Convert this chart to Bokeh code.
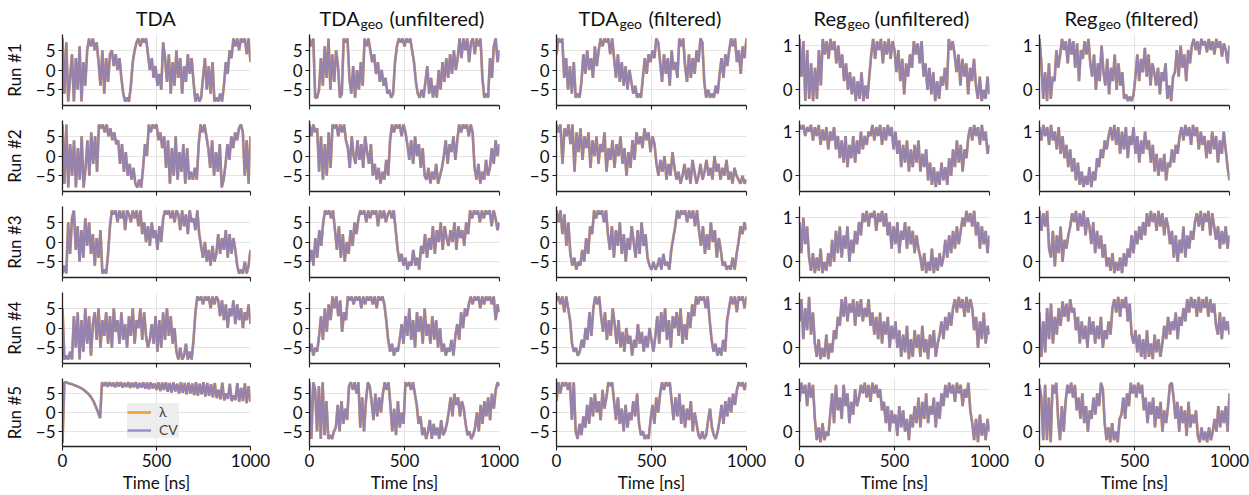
import numpy as np
from bokeh.plotting import figure
from bokeh.layouts import gridplot
from bokeh.models import Range1d, FixedTicker
from bokeh.core.properties import value
from bokeh.embed import file_html
from bokeh.resources import INLINE

# ---------------- data (lambda and CV overlap almost everywhere) ----------------
time_span = [0, 1000]
run_labels = ["Run #1", "Run #2", "Run #3", "Run #4", "Run #5"]
x_ticks = [0, 500, 1000]
tda_ticks = [-5, 0, 5]
reg_ticks = [0, 1]

# column 1: TDA
tda_r1 = [8,-6,7,-8,-2,4,-8,3,-5,6,-8,2,-4,5,8,6,8,5,7,2,-4,5,-6,3,-3,4,5,1,4,0,3,-2,-6,-8,-7,-8,-4,2,5,7,8,6,8,7,8,4,0,3,-2,1,-4,-1,-5,7,3,-3,4,-6,2,-4,5,-2,3,-6,1,-3,4,-1,3,-3,-8,-6,-8,-7,-2,3,-5,1,-6,2,-8,-7,-8,-6,-8,-4,2,-1,5,3,8,6,8,5,8,7,8,4,8,2]
tda_r2 = [8,-7,8,-8,3,-5,4,-8,2,-6,5,-8,-3,4,-5,6,-2,5,-4,8,7,8,6,8,5,7,4,6,3,4,-2,3,-4,1,-5,-2,-6,-3,-7,-8,-6,-8,-3,3,0,8,6,8,7,8,4,6,2,5,-3,4,-7,2,-5,5,-6,1,-4,3,-7,2,-6,-4,-6,-3,-6,3,8,6,8,5,2,-3,4,-5,1,-4,3,-8,-6,-2,3,-1,5,2,6,4,7,8,6,-5,4,-7,5]
tda_r3 = [-8,-6,-8,5,-3,6,8,-2,4,-5,3,-4,6,-1,5,-3,2,-6,1,-4,3,-8,-7,-8,-3,4,8,7,8,5,8,6,8,3,8,7,5,8,6,8,4,8,2,5,0,4,-1,5,1,3,-2,4,0,6,8,7,8,6,8,5,8,7,3,8,4,7,2,8,5,6,3,8,2,-1,-4,0,-5,-2,-6,-1,-5,-3,2,-3,1,-2,3,-4,2,-3,1,-2,-6,-8,-7,-8,-5,-8,-6,-2]
tda_r4 = [5,-8,-7,-8,-6,-8,3,-5,4,-8,2,-6,5,-4,3,-7,1,4,-3,5,-5,2,-2,4,-4,3,-5,5,-1,2,-4,4,-3,1,-5,3,-2,5,-4,2,0,5,-3,4,-2,-5,-3,1,-4,3,-6,2,-5,4,-3,5,-2,3,-4,0,-6,-8,-5,-8,-7,-4,-8,-6,-8,-3,4,8,7,8,6,8,7,8,5,8,6,8,7,3,7,2,6,0,5,3,7,1,6,2,5,0,4,2,6,1]
tda_r5 = [-8,8,8,7.8,7.6,7.5,7.3,7.1,6.9,6.7,6.4,6.1,5.7,5.3,4.8,4.2,3.4,2.4,1.2,0,-1.5,8,
          7,8,6.8,8,7,7.9,6.7,8,6.9,8,6.6,7.8,6.8,8,6.5,7.9,6.7,8,6.4,7.8,6.6,8,6.3,7.9,6.2,8,6.4,7.7,
          6,8,5.7,7.9,6,8,5.5,7.8,5.3,8,5.6,7.6,5,8,5.2,7.8,4.8,7.9,5,7.7,4.6,8,4.5,7.6,4.8,8,4.2,7.8,4.4,7.5,
          4,7.8,3.8,6,3.5,7.9,3.2,5,3.6,7.6,3,4.5,3.3,7.8,2.8,6.5,3,7.7,2.5,7,2.8]

# column 2: TDA_geo (unfiltered)
tdageo_unf_r1 = [8,6,8,-7,-7,-5,3,-4,6,-2,8,-5,4,-3,5,1,-7,-6,8,7,8,-2,-6,1,-7,0,-5,2,-4,8,6,8,5,2,4,-1,2,-3,0,-4,-2,-6,-5,-7,-6,2,6,8,7,8,6,8,7,8,5,2,-3,-6,-7,-5,-7,-3,1,-6,-2,-7,-4,-7,0,-5,2,-3,3,-2,4,-1,5,0,3,8,3,8,5,8,2,7,8,4,8,6,8,-2,-7,-6,-7,3,-2,6,8,2,5]
tdageo_unf_r2 = [8,5,8,6,7,-4,5,-6,3,-5,6,-3,8,7,8,5,8,6,8,4,2,-3,5,0,-2,4,-1,3,-3,5,1,-2,3,-5,-2,-6,-3,-7,-4,-6,-1,-5,4,8,6,8,7,8,5,8,6,3,-1,4,-2,5,0,3,-3,2,-5,-6,-3,-7,-4,-6,-2,-7,-5,-3,0,4,-2,3,1,5,-1,4,8,6,8,7,8,5,8,6,-3,-6,-2,-7,-4,-6,-1,-5,-3,2,-2,4,0,3]
tdageo_unf_r3 = [-5,-2,-6,1,-4,3,-1,5,8,7,8,6,8,3,-2,4,-4,2,-5,0,-3,3,-1,5,2,6,8,7,8,5,8,6,8,7,8,4,8,6,8,5,7,8,6,8,3,-2,-5,-3,-6,-4,-7,-5,-6,-2,-6,-4,-7,-1,-3,2,-4,1,-2,4,-3,3,0,5,-2,4,1,-1,3,0,5,-2,4,1,3,-1,5,2,8,6,8,7,8,5,8,6,8,7,8,4,8,6,3,5]
tdageo_unf_r4 = [-6,-4,-7,-5,-6,-2,3,-3,5,-1,6,2,8,5,8,3,7,-1,4,2,8,7,8,6,8,7,8,5,8,6,8,7,8,6,8,5,8,7,8,6,2,-3,-6,-4,-7,-5,-6,-3,1,-4,3,-2,5,-3,2,-5,4,-1,3,-4,5,-2,1,-4,3,-3,2,-5,0,-6,-4,-7,-5,-6,-3,-7,-2,1,-3,4,0,5,3,6,8,6,8,7,8,5,8,6,8,7,8,6,8,2,6,4]
tdageo_unf_r5 = [8,-7,8,6,-5,7,-7,8,-6,3,-7,-6,-7,-5,-4,2,-5,3,-3,1,-2,7,8,6,8,5,8,-4,4,-5,3,8,7,3,-2,5,-1,4,0,5,8,6,8,2,-5,1,-6,3,-4,0,-3,8,7,8,6,8,5,2,-3,-1,-6,-4,-7,-5,-2,-7,-3,-6,-4,-7,-2,-6,-5,-3,0,4,-1,5,2,4,-1,3,1,-3,-6,-5,-7,-6,-4,0,-5,2,-3,3,-1,4,-2,5,1,6,8,7]

# column 3: TDA_geo (filtered)
tdageo_fil_r1 = [4,8,7,8,-2,3,-5,1,-6,2,-7,-6,-7,-3,4,-1,5,0,3,-2,6,1,5,8,6,8,7,8,4,8,3,-2,4,-3,2,-4,1,-5,0,-3,-6,-4,-7,-6,-7,-2,3,-1,4,2,5,3,8,7,2,-3,4,-1,3,-4,5,0,2,-2,8,6,8,1,-3,4,-2,3,-1,5,2,8,7,-3,-7,-5,-7,-6,-7,-4,-6,-1,3,-2,4,1,5,8,6,8,2,5,-1,6,3,8]
tdageo_fil_r2 = [8,6,8,-2,7,5,8,3,8,-4,6,1,7,-1,5,2,6,-3,4,0,5,-2,3,1,6,-4,2,-1,4,-3,3,0,5,-2,2,-5,1,-3,4,-1,6,3,5,2,7,4,6,1,5,3,-2,-5,-1,-4,0,-6,-2,-5,1,-3,-6,-4,-7,-5,-2,-6,-3,-7,-1,-4,-7,-5,-2,-6,-4,-1,-5,-3,-6,0,-4,-2,-6,-3,-5,-1,-6,-4,-7,-3,-5,-6,-7,-5,-7,-6]
tdageo_fil_r3 = [8,5,8,2,7,-1,5,-3,-6,-4,-7,-5,-6,-2,-5,1,-3,4,2,8,6,8,7,8,5,8,2,-2,4,-4,3,-1,5,-3,2,-5,1,-2,4,0,-4,3,-3,5,-1,2,-4,-6,-7,-5,-7,-6,-4,-7,-3,-6,-5,-7,-2,1,4,8,6,8,7,8,5,8,6,8,4,8,3,-1,4,-3,2,-2,5,0,3,-4,1,-2,-6,-5,-7,-6,-7,-4,-7,-3,0,4,2,5,3]
tdageo_fil_r4 = [7,8,6,8,4,8,5,2,-4,-6,-5,-7,-6,-3,-5,0,-3,4,-2,5,8,6,8,3,-1,4,-3,2,-2,5,1,-4,2,-5,-1,-6,0,-4,-2,-7,-3,-5,1,-4,-1,-6,-2,-5,0,-3,-6,-2,3,-4,4,-1,5,-3,2,-5,3,0,4,-2,5,-4,1,-3,4,0,6,3,8,6,8,7,8,5,8,2,-3,-6,-4,-7,-5,-7,-3,-6,2,5,8,6,8,4,8,7,8,5,8]
tdageo_fil_r5 = [3,8,5,8,7,8,6,8,-2,8,-5,-7,-3,-6,-1,-4,2,-3,4,-1,5,0,3,-2,6,1,4,8,7,8,3,-2,4,-3,1,-5,2,-4,0,-2,3,-1,5,-3,-6,-5,-7,-6,-7,-2,2,-3,4,0,5,8,6,8,7,8,3,-2,4,-1,5,-3,2,-4,1,-2,3,-5,0,-3,-6,-7,-5,-7,-6,-2,1,-4,-6,-7,-5,-2,2,-3,3,-1,4,0,5,2,6,8,7,8,6,8]

# column 4: Reg_geo (unfiltered)
reggeo_unf_r1 = [1.15,0.3,1.1,-0.25,0.9,-0.2,0.6,-0.25,0.5,-0.2,0.9,0.1,1.15,0.8,1.1,0.7,1.15,0.9,1.1,0.6,1.0,0.5,0.8,0.2,0.6,0,0.4,-0.1,0.3,-0.25,0.2,-0.2,0.4,-0.25,0.1,-0.2,0.3,0.8,1.15,0.7,1.1,0.9,1.15,0.6,1.1,0.8,1.15,0.7,1.1,0.9,0.4,0.9,0.2,0.7,-0.1,0.6,0.3,0.8,0.5,1.1,0.8,1.05,0.6,1.1,0.3,0.6,0,0.5,-0.1,0.4,-0.25,0.2,-0.2,0.3,0.1,0.5,0,1.15,0.9,1.1,0.8,0.4,0.8,0.1,0.7,0.3,0.6,-0.1,0.5,0.2,0.7,0.1,-0.2,0.3,-0.25,0,-0.2,0.3,-0.1]
reggeo_unf_r2 = [1.15,1.05,1.15,0.9,1.1,1.0,1.15,0.8,1.1,0.9,1.15,0.7,1.05,0.8,1.1,0.6,1.0,0.8,1.1,0.6,0.9,0.4,0.8,0.3,0.9,0.2,0.7,0.4,0.9,0.3,0.8,0.5,1.0,0.6,0.9,0.7,1.0,0.9,1.15,0.8,1.1,0.9,1.15,0.7,1.1,0.8,1.15,0.9,1.1,0.6,1.0,0.5,0.8,0.2,0.7,0.3,0.8,0.1,0.6,0.2,0.7,0.3,0.8,0.1,0.5,0.2,0.6,-0.1,0.3,-0.2,0.2,-0.25,0.1,-0.2,0.3,-0.1,0.2,-0.2,0.4,0,0.6,0.2,0.8,0.3,0.7,0.1,0.6,0.4,0.9,1.1,0.8,1.15,0.9,1.1,0.7,1.15,0.8,1.0,0.5,0.7]
reggeo_unf_r3 = [0.9,0.2,1.0,0.4,0.8,0.1,-0.2,0.2,-0.25,0.1,-0.2,0.3,-0.25,0,-0.2,0.2,-0.1,0.5,0,0.7,0.2,0.8,0.1,0.6,0.3,0.8,0,0.5,0.2,0.7,0.4,0.9,0.6,1.1,0.9,1.15,0.8,1.1,1.0,1.15,0.7,1.1,0.9,1.15,0.8,1.1,0.6,0.9,0.3,0.8,0.4,0.9,0.2,0.7,0.5,0.9,0.3,0.8,0.4,0.7,0.2,0.6,0.3,0.1,-0.2,0.2,-0.25,0,-0.2,0.3,-0.25,0.1,-0.2,0.2,-0.1,0.1,0.5,0.1,0.6,0.2,0.7,0.3,0.8,0.4,0.7,1.0,0.8,1.15,0.9,1.1,0.8,1.15,0.6,0.9,0.3,0.8,0.4,0.7,0.2,0.6]
reggeo_unf_r4 = [0.6,1.1,0.2,0.9,0.4,1.15,0.3,0.8,0.1,-0.2,0.2,-0.25,0,-0.2,0.3,-0.25,0.1,-0.1,0.4,0.2,0.7,0.5,1.1,0.7,1.15,0.6,1.0,0.8,1.1,0.5,1.05,0.7,1.1,0.6,0.9,0.7,1.1,0.5,0.8,0.3,0.7,0.2,0.8,0.1,0.6,0.3,0.7,0,0.5,0.2,0.6,0,0.4,-0.2,0.3,-0.1,0.5,-0.25,0.2,-0.2,0.4,0,0.3,-0.2,0.5,-0.1,0.2,-0.25,0.3,0,0.4,-0.2,0.1,0.3,0.6,0.2,0.7,0.4,0.8,0.5,0.9,1.1,0.8,1.15,0.9,1.1,0.7,1.15,0.8,1.1,0.9,0.4,0.7,0,0.6,0.2,0.8,0.1,0.5,0.3]
reggeo_unf_r5 = [0.7,1.15,0.9,1.1,0.6,1.15,0.8,1.1,0.3,-0.2,0.1,-0.25,0.2,-0.2,0,-0.1,0.4,0.9,0.2,1.1,0.5,0.8,0.3,1.1,0.6,0.9,0.2,0.7,0.4,1.0,0.6,0.8,1.1,0.9,1.15,0.8,1.1,0.7,1.15,0.9,1.1,0.8,1.0,0.5,0.7,0.2,0.6,0,0.5,0.2,0.4,-0.1,0.6,0.1,0.5,0,0.3,-0.2,0.4,0.1,0.6,0.2,0.8,0.1,0.7,0.3,0.9,0.2,0.6,0.4,0.8,0.1,0.7,0.3,0.9,0.6,1.1,0.8,1.15,0.9,1.1,0.7,1.15,0.9,1.1,0.6,1.0,0.8,1.15,0.5,0.2,-0.2,0.3,-0.25,0.4,-0.1,0.2,-0.2,0.3,0]

# column 5: Reg_geo (filtered)
reggeo_fil_r1 = [1.15,0.6,-0.2,0.4,-0.25,0.6,-0.2,0.3,0.2,0.9,0.5,0.8,1.15,0.9,1.1,0.6,1.15,0.8,1.1,0.5,1.05,0.2,0.9,0.7,1.1,0.8,1.15,0.6,0.3,0.8,0,0.6,0.2,1.0,0.4,0.1,0.7,-0.1,0.5,0.2,0.8,0,0.6,0.1,0.4,-0.2,-0.1,-0.25,-0.15,-0.25,-0.1,0.3,0.8,0.2,0.7,0.4,0.95,0.3,0.8,0.1,0.6,0.4,0.1,0.5,-0.1,0.4,0.2,0.6,-0.2,0.1,-0.25,0.3,0.4,0.9,0.3,1.0,0.5,0.8,0.2,0.9,0.6,1.0,1.15,0.9,1.1,0.8,1.15,1.0,1.1,0.85,1.15,0.9,1.1,0.8,1.15,0.95,1.1,0.75,1.05,0.9,0.6,1.0]
reggeo_fil_r2 = [1.1,0.8,1.15,0.9,1.1,0.7,1.15,0.8,1.0,0.6,1.1,0.5,0.9,0.4,0.7,0.2,0.6,0.1,0.4,-0.1,0.3,-0.2,0.1,-0.25,0,-0.2,0.2,-0.25,0.1,-0.1,0.4,0.2,0.6,0.4,0.8,0.6,0.9,1.1,0.8,1.15,0.7,1.1,0.5,1.0,0.6,1.1,0.4,0.9,0.7,1.1,0.5,0.9,0.3,0.8,0.5,1.0,0.6,0.8,0.3,0.7,0.1,0.5,0,0.4,0.1,0.5,-0.1,0.3,0.2,0.6,0.3,0.7,0.5,0.9,1.1,0.8,1.15,0.9,1.1,0.7,1.15,0.9,1.1,0.6,1.0,0.7,0.9,0.4,0.8,0.5,1.0,0.6,0.9,0.3,0.8,0.5,1.0,0.6,0.2,-0.1]
reggeo_fil_r3 = [1.15,0.7,1.1,0.8,1.15,0.3,0.1,0.7,-0.1,0.6,0.2,0.8,0,0.5,0.3,0.6,0.8,1.1,0.9,1.15,0.7,1.1,0.8,1.15,0.6,1.0,0.8,0.4,0.9,0.2,0.7,0.3,0.6,0.1,0.4,-0.1,0.1,-0.2,0.2,-0.25,0,-0.2,0.1,-0.25,0.2,-0.1,0.3,0.1,0.6,0.2,0.7,0.4,0.8,0.5,0.9,0.6,1.1,0.8,1.15,0.9,1.1,0.7,1.15,0.8,1.1,0.6,1.0,0.8,0.4,0.7,0.1,0.6,0,0.5,0.2,0.8,0.1,0.6,0.3,0.7,0.5,0.9,1.1,0.8,1.15,0.7,1.1,0.9,1.15,0.6,1.1,0.8,0.5,0.8,0.3,0.7,0.4,0.8,0.3,0.6]
reggeo_fil_r4 = [0.8,-0.2,0.6,-0.1,0.9,0.2,1.0,0.1,0.7,0.3,0.9,0.5,1.05,0.7,1.0,0.6,1.1,0.8,0.9,0.4,0.7,0.1,0.6,0.2,0.5,0,0.7,0.3,0.6,0.1,0.5,0.2,0.7,0,0.4,0.2,0.6,0.3,0.9,1.1,0.8,1.15,0.7,1.1,0.9,1.15,0.6,1.0,0.3,0.1,0.4,-0.1,0.3,-0.2,0.2,-0.25,0.4,-0.2,0.1,-0.25,0.3,-0.1,0.2,-0.2,0.1,0.5,0.2,0.7,0.3,0.6,0.4,0.8,0.2,0.7,0.5,0.9,0.6,1.1,0.8,1.15,0.9,1.1,0.7,1.15,0.8,1.1,0.9,1.15,0.7,1.1,0.8,1.0,0.5,0.3,0.8,0.2,0.7,0.4,0.6,0.3]
reggeo_fil_r5 = [1.1,0.8,-0.2,1.1,-0.2,0.8,-0.25,1.1,0.9,1.15,0.3,-0.2,0.6,0,0.7,1.1,0.9,1.15,0.8,1.1,0.5,0.8,0.3,0.9,0.2,0.6,0,0.5,0.3,0.8,0.4,0.9,0.6,1.15,1.0,0.2,-0.2,0.1,-0.25,0.2,-0.2,0,-0.25,0.3,0.4,0.8,0.3,0.9,0.6,1.15,0.9,1.1,0.8,1.15,0.9,1.1,0.5,0.8,0.2,0.7,0.4,0.8,0.1,0.6,0.3,0.7,0,0.5,0.2,0.6,1.1,1.15,0.8,0.3,0.7,0,0.6,0.2,0.5,-0.1,0.7,0.1,0.4,0.2,0.5,-0.1,-0.25,0.1,-0.2,0,-0.25,0.1,-0.2,0,0.3,0,0.6,0.1,0.5,0.2,0.6,0,0.9]

columns = [
    dict(series=[tda_r1, tda_r2, tda_r3, tda_r4, tda_r5], yr=(-9.0, 9.0), ticks=tda_ticks,
         title=[("TDA", 74, 20, 0)]),
    dict(series=[tdageo_unf_r1, tdageo_unf_r2, tdageo_unf_r3, tdageo_unf_r4, tdageo_unf_r5], yr=(-9.0, 9.0), ticks=tda_ticks,
         title=[("TDA", 10, 20, 0), ("geo", 51, 14, 3), ("(unfiltered)", 80, 20, 0)]),
    dict(series=[tdageo_fil_r1, tdageo_fil_r2, tdageo_fil_r3, tdageo_fil_r4, tdageo_fil_r5], yr=(-9.0, 9.0), ticks=tda_ticks,
         title=[("TDA", 22, 20, 0), ("geo", 63, 14, 3), ("(filtered)", 92, 20, 0)]),
    dict(series=[reggeo_unf_r1, reggeo_unf_r2, reggeo_unf_r3, reggeo_unf_r4, reggeo_unf_r5], yr=(-0.35, 1.25), ticks=reg_ticks,
         title=[("Reg", 14, 20, 0), ("geo", 48, 14, 3), ("(unfiltered)", 75, 20, 0)]),
    dict(series=[reggeo_fil_r1, reggeo_fil_r2, reggeo_fil_r3, reggeo_fil_r4, reggeo_fil_r5], yr=(-0.35, 1.25), ticks=reg_ticks,
         title=[("Reg", 25, 20, 0), ("geo", 59, 14, 3), ("(filtered)", 86, 20, 0)]),
]

# ---------------- layout / style ----------------
FONT = "Lato"
LAM_COLOR = "#f09a20"
CV_COLOR = "#867ec2"
col_borders = [(60, 20), (39, 20), (37, 20), (33, 20), (30, 22)]
FRAME_W = 190
FRAME_H = 71
TITLE_H = 34
row_borders = [(0, 8), (7, 8), (7, 8), (7, 8), (7, 46)]

grid = []

# title strip: one figure per column whose frame lines up with the panel frames below it
title_row = []
for c, col in enumerate(columns):
    bl, br = col_borders[c]
    w = bl + FRAME_W + br
    tp = figure(width=w, height=TITLE_H, x_range=Range1d(0, FRAME_W), y_range=Range1d(0, TITLE_H),
                min_border_left=bl, min_border_right=br, min_border_top=0, min_border_bottom=0,
                x_axis_type=None, y_axis_type=None, title=None,
                output_backend="svg", toolbar_location=None, tools="")
    tp.outline_line_color = None
    tp.grid.visible = False
    tp.background_fill_color = "white"
    tp.border_fill_color = "white"
    for text, off, size, drop in col["title"]:
        # vertical centre of the text line, measured from the bottom of the strip
        yc = TITLE_H - (24.5 + drop - 0.35 * size)
        tp.text(x=[off], y=[yc], text=[text],
                text_font=value(FONT), text_font_size=value(f"{size}px"), text_color="#111111",
                text_align="left", text_baseline="middle")
    title_row.append(tp)
grid.append(title_row)

for r in range(5):
    row = []
    for c, col in enumerate(columns):
        bl, br = col_borders[c]
        bt, bb = row_borders[r]
        p = figure(width=bl + FRAME_W + br, height=bt + FRAME_H + bb,
                   min_border_left=bl, min_border_right=br, min_border_top=bt, min_border_bottom=bb,
                   x_range=Range1d(*time_span), y_range=Range1d(*col["yr"]), title=None,
                   output_backend="svg", toolbar_location=None, tools="")
        p.outline_line_color = None
        p.background_fill_color = "white"
        p.border_fill_color = "white"

        vals = col["series"][r]
        t = np.linspace(time_span[0], time_span[1], len(vals))
        lam = vals
        cv = vals
        kw_l = dict(legend_label="λ") if (r == 4 and c == 0) else {}
        kw_c = dict(legend_label="CV") if (r == 4 and c == 0) else {}
        p.line(t, lam, line_color=LAM_COLOR, line_alpha=0.9, line_width=2.7, **kw_l)
        p.line(t, cv, line_color=CV_COLOR, line_alpha=0.85, line_width=2.4, **kw_c)

        p.xaxis.ticker = FixedTicker(ticks=x_ticks)
        p.yaxis.ticker = FixedTicker(ticks=col["ticks"])
        p.yaxis.major_label_overrides = {-5: "−5"}
        p.grid.grid_line_color = "#e4e4e4"
        p.grid.grid_line_width = 1
        p.axis.axis_line_color = "#222222"
        p.axis.axis_line_width = 1.3
        p.axis.major_tick_line_color = "#222222"
        p.axis.major_tick_line_width = 1.1
        p.axis.major_tick_in = 0
        p.axis.major_tick_out = 4
        p.axis.minor_tick_line_color = None
        p.axis.major_label_text_font = FONT
        p.axis.major_label_text_font_size = "17px"
        p.axis.major_label_text_color = "#111111"
        p.axis.major_label_standoff = 3
        p.axis.axis_label_text_font = FONT
        p.axis.axis_label_text_font_size = "17px"
        p.axis.axis_label_text_font_style = "normal"
        p.axis.axis_label_text_color = "#111111"
        if r < 4:
            p.xaxis.major_label_overrides = {0: "", 500: "", 1000: ""}
            p.xaxis.major_label_standoff = 0
        else:
            p.xaxis.axis_label = "Time [ns]"
            p.xaxis.axis_label_standoff = 2
        if c == 0:
            p.yaxis.axis_label = run_labels[r]
            p.yaxis.axis_label_standoff = 8

        if r == 4 and c == 0:
            lg = p.legend[0]
            lg.location = (65, 8)
            lg.background_fill_color = "#ebebeb"
            lg.background_fill_alpha = 0.85
            lg.border_line_color = None
            lg.label_text_font = FONT
            lg.label_text_font_size = "14px"
            lg.label_height = 14
            lg.glyph_height = 14
            lg.glyph_width = 24
            lg.label_standoff = 8
            lg.padding = 4
            lg.spacing = 1
            lg.margin = 0
        row.append(p)
    grid.append(row)

layout = gridplot(grid, toolbar_location=None)
open("out.html", "w").write(file_html(layout, INLINE))
